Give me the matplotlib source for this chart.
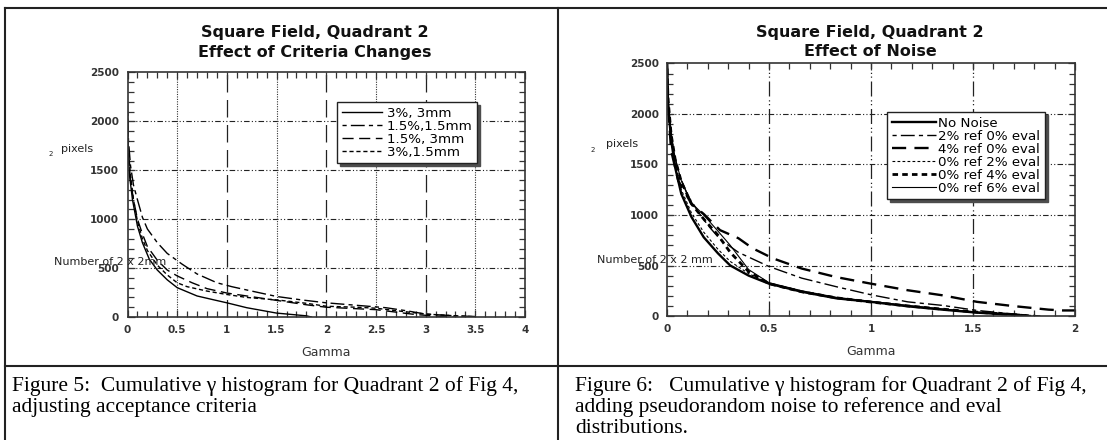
import matplotlib
matplotlib.use('Agg')
import matplotlib.pyplot as plt
from matplotlib.lines import Line2D
from matplotlib.ticker import MultipleLocator, FuncFormatter

W, H = 1107, 440
fig = plt.figure(figsize=(W / 100, H / 100), dpi=100)
plt.rcParams['font.family'] = ['DejaVu Sans']


def fx(px):
    return px / W


def fy(py):
    return 1 - py / H


# ---------------- data: left chart (criteria) ----------------
crit_labels = ['3%, 3mm', '1.5%,1.5mm', '1.5%, 3mm', '3%,1.5mm']
c33_x = [0, 0.005, 0.02, 0.05, 0.1, 0.15, 0.22, 0.3, 0.4, 0.5, 0.7, 0.87, 1.0, 1.2, 1.5, 1.8, 1.85]
c33_y = [2200, 1700, 1450, 1200, 930, 760, 590, 480, 380, 300, 215, 175, 145, 95, 40, 12, 0]
c1515_x = [0, 0.01, 0.03, 0.06, 0.1, 0.15, 0.2, 0.3, 0.4, 0.55, 0.7, 0.9, 1.05, 1.25, 1.5, 1.75, 2.0, 2.3, 2.6, 2.8, 3.0, 3.3, 3.5]
c1515_y = [2100, 1800, 1550, 1350, 1200, 1020, 900, 760, 650, 540, 440, 350, 310, 265, 210, 175, 145, 120, 95, 65, 30, 12, 5]
c153_x = [0, 0.01, 0.03, 0.06, 0.1, 0.15, 0.2, 0.3, 0.4, 0.5, 0.65, 0.8, 1.0, 1.2, 1.5, 1.8, 2.0, 2.2, 2.5, 2.7, 2.9, 3.1, 3.3]
c153_y = [2000, 1650, 1400, 1200, 1000, 850, 720, 580, 480, 420, 350, 290, 245, 215, 170, 125, 100, 90, 75, 50, 25, 10, 0]
c315_x = [0, 0.01, 0.03, 0.06, 0.1, 0.15, 0.2, 0.3, 0.4, 0.5, 0.6, 0.8, 1.0, 1.2, 1.5, 1.8, 2.0, 2.3, 2.5, 2.7, 3.0, 3.3, 3.5]
c315_y = [2100, 1700, 1450, 1200, 980, 800, 680, 530, 430, 350, 310, 265, 230, 200, 175, 140, 110, 100, 90, 65, 30, 12, 3]

# ---------------- data: right chart (noise) ----------------
noise_labels = ['No Noise', '2% ref 0% eval', '4% ref 0% eval',
                '0% ref 2% eval', '0% ref 4% eval', '0% ref 6% eval']
bundle_x = [0, 0.005, 0.02, 0.04, 0.07, 0.12, 0.18, 0.25, 0.31, 0.4, 0.5, 0.66, 0.83, 1.0, 1.18, 1.35, 1.52, 1.69, 1.78]
nn_y = [2500, 2100, 1750, 1470, 1210, 980, 780, 620, 500, 400, 320, 240, 175, 140, 96, 63, 33, 13, 0]
e2_y = [2450, 2100, 1780, 1500, 1250, 1020, 830, 660, 540, 420, 325, 245, 180, 140, 100, 66, 36, 14, 0]
e4_y = [2450, 2150, 1800, 1550, 1330, 1110, 960, 800, 630, 440, 320, 240, 180, 138, 100, 68, 38, 15, 0]
e6_y = [2450, 2150, 1820, 1560, 1340, 1120, 1000, 840, 700, 460, 330, 250, 185, 145, 105, 70, 40, 17, 0]
r2_x = [0, 0.01, 0.03, 0.06, 0.1, 0.15, 0.2, 0.26, 0.35, 0.5, 0.66, 0.83, 1.0, 1.18, 1.35, 1.52, 1.69, 1.83]
r2_y = [2450, 1950, 1650, 1400, 1200, 1040, 900, 760, 630, 490, 375, 290, 210, 140, 105, 55, 22, 0]
r4_x = [0, 0.005, 0.02, 0.055, 0.12, 0.18, 0.26, 0.35, 0.42, 0.52, 0.66, 0.83, 1.0, 1.18, 1.35, 1.52, 1.69, 1.87, 1.94, 2.0]
r4_y = [2500, 2100, 1640, 1340, 1110, 1010, 850, 770, 670, 570, 470, 385, 320, 255, 205, 140, 100, 63, 55, 55]

# ---------------- table frame ----------------
line_kw = dict(color='#222222', lw=1.5, transform=fig.transFigure)
fig.add_artist(Line2D([fx(5), fx(1107)], [fy(8), fy(8)], **line_kw))
fig.add_artist(Line2D([fx(5), fx(1107)], [fy(366), fy(366)], **line_kw))
fig.add_artist(Line2D([fx(5), fx(5)], [fy(8), fy(440)], **line_kw))
fig.add_artist(Line2D([fx(558), fx(558)], [fy(8), fy(440)], **line_kw))

fmt = FuncFormatter(lambda v, p: '%g' % v)


def style_axes(ax, xmax, xmaj):
    ax.set_xlim(0, xmax)
    ax.set_ylim(0, 2500)
    ax.xaxis.set_major_locator(MultipleLocator(xmaj))
    ax.xaxis.set_minor_locator(MultipleLocator(0.1))
    ax.yaxis.set_major_locator(MultipleLocator(500))
    ax.yaxis.set_minor_locator(MultipleLocator(100))
    ax.xaxis.set_major_formatter(fmt)
    ax.yaxis.set_major_formatter(fmt)
    ax.tick_params(which='both', direction='in', top=True, right=True,
                   color='#333333', width=0.9)
    ax.tick_params(which='major', length=5, labelsize=7.5, pad=6)
    ax.tick_params(which='minor', length=4)
    for lab in ax.get_xticklabels() + ax.get_yticklabels():
        lab.set_fontweight('bold')
        lab.set_color('#333333')
    for s in ax.spines.values():
        s.set_linewidth(1.2)
        s.set_color('#333333')
    for v in [500, 1000, 1500, 2000]:
        ax.axhline(v, color='#222222', lw=0.8, ls=(0, (5, 2, 1, 2, 1, 2)), zorder=1)
    ax.set_xlabel('Gamma', fontsize=9, color='#333333', labelpad=8)


leg_kw = dict(loc='upper left', bbox_transform=fig.transFigure, fancybox=False,
              shadow={'facecolor': '0.3', 'edgecolor': '0.3', 'alpha': 1},
              edgecolor='#222222', framealpha=1, fontsize=9.6, borderpad=0.35,
              labelspacing=0.0, borderaxespad=0)

# ---------------- left chart ----------------
axL = fig.add_axes([fx(127.5), fy(317), fx(525) - fx(127.5), fy(72.5) - fy(317)])
style_axes(axL, 4, 0.5)
for v in [0.5, 1.5, 2.5, 3.5]:
    axL.axvline(v, color='#333333', lw=0.8, ls=(0, (1, 1.2)), zorder=1)
for v in [1, 2, 3]:
    axL.axvline(v, color='#222222', lw=0.9, ls=(0, (14, 6)), zorder=1)

hL = []
hL += axL.plot(c33_x, c33_y, color='black', lw=1.0, ls='-')
hL += axL.plot(c1515_x, c1515_y, color='black', lw=1.0, ls=(0, (3, 3, 10, 3)))
hL += axL.plot(c153_x, c153_y, color='black', lw=1.0, ls=(0, (8, 4)))
hL += axL.plot(c315_x, c315_y, color='black', lw=1.0, ls=(0, (3, 2)))

legL = axL.legend(hL, crit_labels, bbox_to_anchor=(fx(337), fy(102)),
                  handlelength=3.0, handletextpad=0.4, **leg_kw)
legL.get_frame().set_linewidth(1.0)

fig.text(fx(315), fy(32), 'Square Field, Quadrant 2', ha='center', va='center',
         fontsize=11.5, fontweight='bold', color='#111111')
fig.text(fx(315), fy(52), 'Effect of Criteria Changes', ha='center', va='center',
         fontsize=11.5, fontweight='bold', color='#111111')
fig.text(fx(54), fy(262), 'Number of 2 x 2mm', ha='left', va='center', fontsize=8,
         color='#222222')
fig.text(fx(61), fy(149), 'pixels', ha='left', va='center', fontsize=8, color='#222222')
fig.text(fx(49), fy(154), '2', ha='left', va='center', fontsize=5, color='#222222')

# ---------------- right chart ----------------
axR = fig.add_axes([fx(667), fy(316), fx(1075) - fx(667), fy(63.5) - fy(316)])
style_axes(axR, 2, 0.5)
for v in [0.5, 1.0, 1.5]:
    axR.axvline(v, color='#222222', lw=0.9, ls=(0, (12, 3, 1, 2, 1, 3)), zorder=1)

hR = []
hR += axR.plot(bundle_x, nn_y, color='black', lw=1.7, ls='-')
hR += axR.plot(r2_x, r2_y, color='black', lw=1.0, ls=(0, (3, 3, 10, 3)))
hR += axR.plot(r4_x, r4_y, color='black', lw=1.7, ls=(0, (6, 3.5)))
hR += axR.plot(bundle_x, e2_y, color='black', lw=0.8, ls=(0, (2.5, 2)))
hR += axR.plot(bundle_x, e4_y, color='black', lw=2.0, ls=(0, (2, 1.5)))
hR += axR.plot(bundle_x, e6_y, color='black', lw=0.8, ls='-')

legR = axR.legend(hR, noise_labels, bbox_to_anchor=(fx(887), fy(112)),
                  handlelength=3.3, handletextpad=0.2, **leg_kw)
legR.get_frame().set_linewidth(1.0)

fig.text(fx(870), fy(32), 'Square Field, Quadrant 2', ha='center', va='center',
         fontsize=11.5, fontweight='bold', color='#111111')
fig.text(fx(870), fy(52), 'Effect of Noise', ha='center', va='center',
         fontsize=11.5, fontweight='bold', color='#111111')
fig.text(fx(597), fy(260), 'Number of 2 x 2 mm', ha='left', va='center', fontsize=8,
         color='#222222')
fig.text(fx(606), fy(144), 'pixels', ha='left', va='center', fontsize=8, color='#222222')
fig.text(fx(591), fy(150), '2', ha='left', va='center', fontsize=5, color='#222222')

# ---------------- captions ----------------
cap_kw = dict(ha='left', va='center', fontsize=15.5, family='Liberation Serif', color='black')
fig.text(fx(12), fy(386), 'Figure 5:  Cumulative \u03b3 histogram for Quadrant 2 of Fig 4,', **cap_kw)
fig.text(fx(12), fy(407), 'adjusting acceptance criteria', **cap_kw)
fig.text(fx(575), fy(386), 'Figure 6:   Cumulative \u03b3 histogram for Quadrant 2 of Fig 4,', **cap_kw)
fig.text(fx(575), fy(407), 'adding pseudorandom noise to reference and eval', **cap_kw)
fig.text(fx(575), fy(428), 'distributions.', **cap_kw)

fig.savefig('out.png', dpi=100)
